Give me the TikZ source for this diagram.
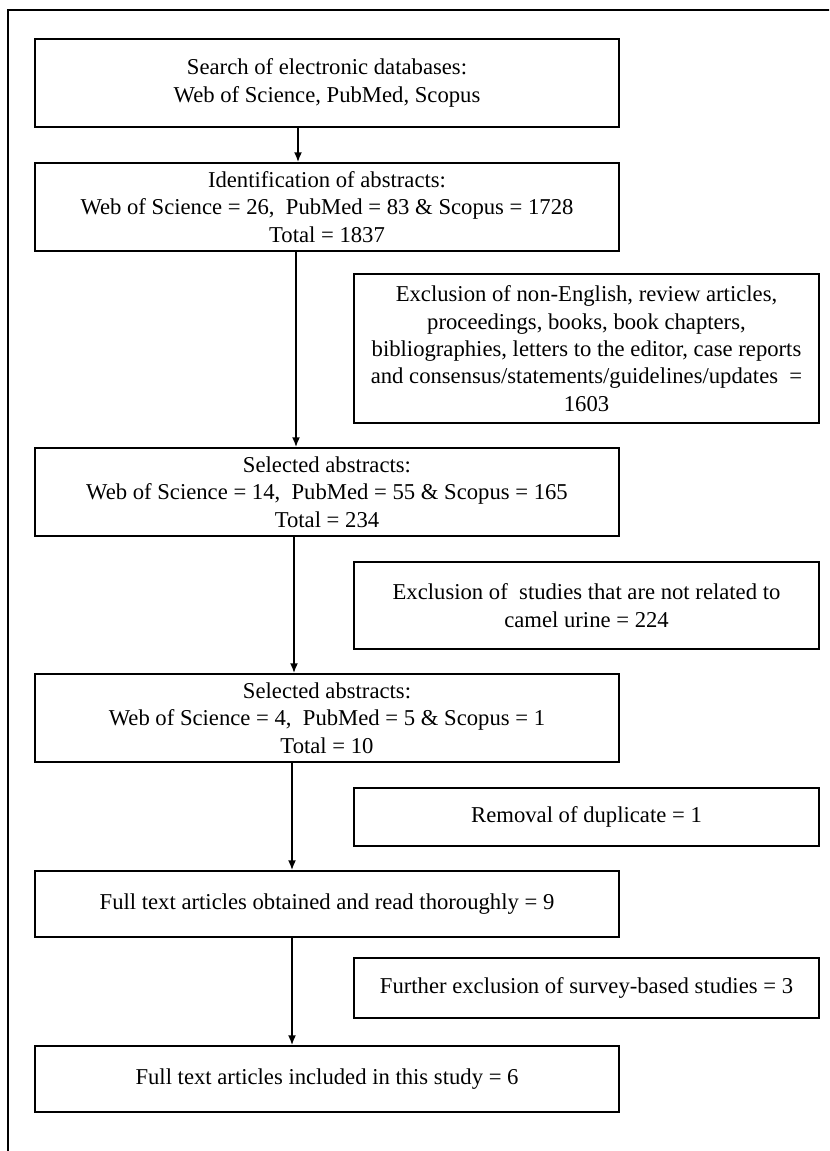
\documentclass[tikz,border=0pt]{standalone}
\usepackage{tikz}
\usepackage{xcolor}
\usepackage{fontspec}
\setmainfont{Liberation Serif}
\usetikzlibrary{shapes.geometric, arrows.meta, positioning, calc}
\tikzstyle{process} = [rectangle, minimum width=438pt, minimum height=66pt, inner sep=0pt, align=center, draw=black, line width=1pt, fill=white]
\tikzstyle{excluded} = [rectangle, minimum width=348.75pt, inner sep=0pt, align=center, draw=black, line width=1pt, fill=white]
\tikzstyle{arrow} = [line width=1.5pt,-{Latex[length=7.5pt,width=6pt]}]
\tikzstyle{frame} = [draw=black, line width=1.4pt]

\begin{document}
\begin{tikzpicture}[x=0.75pt, y=-0.75pt, font=\fontsize{17}{20.5}\selectfont]

\useasboundingbox (0,0) rectangle (829,1151);
\clip (0,0) rectangle (829,1151);
\coordinate (frameBL) at (8,1170);
\coordinate (frameTL) at (8,10);
\coordinate (frameTR) at (850,10);
\draw [frame] (frameBL) -- (frameTL) -- (frameTR);

% main column
\node (search) [process] at (327,83) {Search of electronic databases:\\Web of Science, PubMed, Scopus};
\node (ident) [process] at (327,207) {Identification of abstracts:\\Web of Science = 26,\ \ PubMed = 83 \& Scopus = 1728\\Total = 1837};
\node (selA) [process] at (327,492) {Selected abstracts:\\Web of Science = 14,\ \ PubMed = 55 \& Scopus = 165\\Total = 234};
\node (selB) [process] at (327,718) {Selected abstracts:\\Web of Science = 4,\ \ PubMed = 5 \& Scopus = 1\\Total = 10};
\node (fulltext) [process, minimum height=49.5pt] at (327,904) {Full text articles obtained and read thoroughly = 9};
\node (included) [process, minimum height=49.5pt] at (327,1079) {Full text articles included in this study = 6};

% exclusions
\node (exclA) [excluded, minimum height=111.75pt] at (586.5,348.5) {Exclusion of non-English, review articles,\\proceedings, books, book chapters,\\bibliographies, letters to the editor, case reports\\and consensus/statements/guidelines/updates\ \ =\\1603};
\node (exclB) [excluded, minimum height=65.25pt] at (586.5,605.5) {Exclusion of\ \ studies that are not related to\\camel urine = 224};
\node (dupl) [excluded, minimum height=43.5pt] at (586.5,817) {Removal of duplicate = 1};
\node (survey) [excluded, minimum height=45pt] at (586.5,988) {Further exclusion of survey-based studies = 3};

\draw [arrow] ([xshift=-21.75pt]search.south) -- ([xshift=-21.75pt]ident.north);
\draw [arrow] ([xshift=-23.25pt]ident.south) -- ([xshift=-23.25pt]selA.north);
\draw [arrow] ([xshift=-24.75pt]selA.south) -- ([xshift=-24.75pt]selB.north);
\draw [arrow] ([xshift=-26.25pt]selB.south) -- ([xshift=-26.25pt]fulltext.north);
\draw [arrow] ([xshift=-26.25pt]fulltext.south) -- ([xshift=-26.25pt]included.north);

\end{tikzpicture}
\end{document}
